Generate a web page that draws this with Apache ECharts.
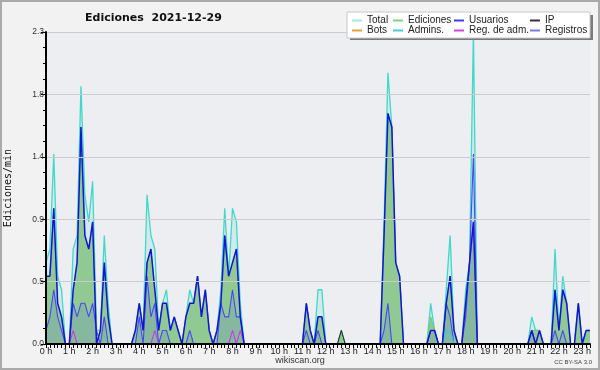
<!DOCTYPE html>
<html><head><meta charset="utf-8">
<script src="https://cdn.jsdelivr.net/npm/echarts@6/dist/echarts.min.js"></script>
<style>html,body{margin:0;padding:0;background:#f2f2f2}#c{width:600px;height:370px}</style>
</head><body><div id="c"></div>
<script>
// 10-minute samples, 00:00 .. 23:20
const categories = [];
for (let m = 0; m <= 1400; m += 10) {
  categories.push(String(Math.floor(m / 60)).padStart(2, '0') + ':' + String(m % 60).padStart(2, '0'));
}
const hourSuffix = ' h';
const yTickValues = [0, 0.46, 0.92, 1.38, 1.84, 2.3];

const total = [
0.6,0.7,1.4,0.5,0.4,0,0,0.7,0.8,1.9,
1.1,0.9,1.2,0.1,0.1,0.8,0.3,0,0,0,
0,0,0,0.1,0.3,0.1,1.1,0.8,0.7,0.1,
0.3,0.4,0.1,0.2,0.1,0,0.2,0.4,0.3,0.5,
0.2,0.4,0.1,0,0.1,0.4,1.0,0.5,1.0,0.9,
0.3,0,0,0,0,0,0,0,0,0,
0,0,0,0,0,0,0,0.3,0.1,0,
0.4,0.4,0,0,0,0,0.1,0,0,0,
0,0,0,0,0,0,0,0.9,2.0,1.6,
0.6,0.5,0,0,0,0,0,0,0,0.3,
0.1,0,0,0.4,0.8,0.1,0,0,0.4,0.6,
2.3,0,0,0,0,0,0,0,0,0,
0,0,0,0,0,0.2,0.1,0.1,0,0,
0,0.7,0.1,0.5,0.3,0,0,0.3,0,0.1,
0.1];

const ediciones = [
0.5,0.5,1.0,0.3,0.2,0,0,0.4,0.6,1.6,
0.8,0.7,0.9,0,0.1,0.6,0.2,0,0,0,
0,0,0,0.1,0.3,0.1,0.6,0.7,0.4,0.1,
0.3,0.3,0.1,0.2,0.1,0,0.2,0.3,0.3,0.5,
0.2,0.4,0.1,0,0.1,0.3,0.8,0.5,0.6,0.7,
0.2,0,0,0,0,0,0,0,0,0,
0,0,0,0,0,0,0,0.3,0.1,0,
0.2,0.2,0,0,0,0,0.1,0,0,0,
0,0,0,0,0,0,0,0.8,1.7,1.6,
0.6,0.5,0,0,0,0,0,0,0,0.2,
0.1,0,0,0.3,0.5,0.1,0,0,0.3,0.6,
0.9,0,0,0,0,0,0,0,0,0,
0,0,0,0,0,0.1,0.1,0.1,0,0,
0,0.4,0.1,0.4,0.3,0,0,0.3,0,0.1,
0.1];

const usuarios = [
0.5,0.5,1.0,0.3,0.2,0,0,0.4,0.6,1.6,
0.8,0.7,0.9,0,0.1,0.6,0.2,0,0,0,
0,0,0,0.1,0.3,0.1,0.6,0.7,0.4,0.1,
0.3,0.3,0.1,0.2,0.1,0,0.2,0.3,0.3,0.5,
0.2,0.4,0.1,0,0.1,0.3,0.8,0.5,0.6,0.7,
0.2,0,0,0,0,0,0,0,0,0,
0,0,0,0,0,0,0,0.3,0.1,0,
0.2,0.2,0,0,0,0,0,0,0,0,
0,0,0,0,0,0,0,0.8,1.7,1.6,
0.6,0.5,0,0,0,0,0,0,0,0.1,
0.1,0,0,0.3,0.5,0.1,0,0,0.3,0.6,
0.9,0,0,0,0,0,0,0,0,0,
0,0,0,0,0,0.1,0,0.1,0,0,
0,0.4,0.1,0.4,0.3,0,0,0.3,0,0.1,
0.1];

const ip = [
0,0,0,0,0,0,0,0,0,0,
0,0,0,0,0,0,0,0,0,0,
0,0,0,0,0,0,0,0,0,0,
0,0,0,0,0,0,0,0,0,0,
0,0,0,0,0,0,0,0,0,0,
0,0,0,0,0,0,0,0,0,0,
0,0,0,0,0,0,0,0,0,0,
0,0,0,0,0,0,0.1,0,0,0,
0,0,0,0,0,0,0,0,0,0,
0,0,0,0,0,0,0,0,0,0,
0,0,0,0,0,0,0,0,0,0,
0,0,0,0,0,0,0,0,0,0,
0,0,0,0,0,0,0,0,0,0,
0,0,0,0,0,0,0,0,0,0,
0];

const bots = [
0,0,0,0,0,0,0,0,0,0,
0,0,0,0,0,0,0,0,0,0,
0,0,0,0,0,0,0,0,0,0,
0,0,0,0,0,0,0,0,0,0,
0,0,0,0,0,0,0,0,0,0,
0,0,0,0,0,0,0,0,0,0,
0,0,0,0,0,0,0,0,0,0,
0,0,0,0,0,0,0,0,0,0,
0,0,0,0,0,0,0,0,0,0,
0,0,0,0,0,0,0,0,0,0,
0,0,0,0,0,0,0,0,0,0,
0,0,0,0,0,0,0,0,0,0,
0,0,0,0,0,0,0,0,0,0,
0,0,0,0,0,0,0,0,0,0,
0];

const admins = [
0,0,0,0,0,0,0,0,0,0,
0,0,0,0,0,0,0,0,0,0,
0,0,0,0,0,0,0,0,0,0,
0,0,0,0,0,0,0,0,0,0,
0,0,0,0,0,0,0,0,0,0,
0,0,0,0,0,0,0,0,0,0,
0,0,0,0,0,0,0,0,0,0,
0,0,0,0,0,0,0,0,0,0,
0,0,0,0,0,0,0,0,0,0,
0,0,0,0,0,0,0,0,0,0,
0,0,0,0.1,0.1,0,0,0,0,0,
0,0,0,0,0,0,0,0,0,0,
0,0,0,0,0,0,0,0,0,0,
0,0,0,0,0,0,0,0,0,0,
0];

const regAdm = [
0,0,0,0,0,0,0,0.1,0,0,
0,0,0,0,0,0,0,0,0,0,
0,0,0,0,0,0,0,0,0.1,0,
0,0,0,0,0,0,0,0,0,0,
0,0,0,0,0,0,0,0,0.1,0,
0.1,0,0,0,0,0,0,0,0,0,
0,0,0,0,0,0,0,0,0,0,
0,0,0,0,0,0,0,0,0,0,
0,0,0,0,0,0,0,0,0,0,
0,0,0,0,0,0,0,0,0,0,
0,0,0,0,0,0,0,0,0,0,
0,0,0,0,0,0,0,0,0,0,
0,0,0,0,0,0,0,0,0,0,
0,0,0,0,0,0,0,0,0,0,
0];

const registros = [
0.1,0.2,0.4,0.2,0.1,0,0,0.3,0.2,0.3,
0.3,0.2,0.3,0.1,0,0.2,0,0,0,0,
0,0,0,0,0.2,0,0.5,0.2,0.3,0,
0.1,0.1,0,0,0,0,0,0.1,0,0,
0,0,0,0,0,0.3,0.2,0.2,0.4,0.2,
0.2,0,0,0,0,0,0,0,0,0,
0,0,0,0,0,0,0,0.1,0,0,
0.1,0,0,0,0,0,0,0,0,0,
0,0,0,0,0,0,0,0.1,0.3,0,
0,0,0,0,0,0,0,0,0,0.1,
0.1,0,0,0.3,0.2,0,0,0,0.2,0.6,
1.4,0,0,0,0,0,0,0,0,0,
0,0,0,0,0,0.1,0,0,0,0,
0,0.1,0,0.1,0,0,0,0,0,0,
0];

const chart = echarts.init(document.getElementById('c'), null, {renderer: 'canvas'});

function line(name, data, legendColor, lineColor, width, z, area) {
  const s = {
    name: name, type: 'line', data: data, z: z,
    showSymbol: false, symbol: 'none', silent: true,
    itemStyle: {color: legendColor},
    lineStyle: {color: lineColor, width: width},
    emphasis: {disabled: true}
  };
  if (area) s.areaStyle = {color: area, opacity: 1, origin: 'start'};
  return s;
}

const legendFont = {fontFamily: 'Liberation Sans', fontSize: 10, color: '#222', lineHeight: 9};
function legendCol(left, items) {
  return {
    orient: 'vertical', left: left, top: 15.5, padding: 0, itemGap: 0,
    itemWidth: 10, itemHeight: 2, icon: 'rect', selectedMode: false, z: 60,
    textStyle: legendFont,
    data: items.map(function (it) { return {name: it[0], itemStyle: {color: it[1]}}; })
  };
}

const option = {
  animation: false,
  backgroundColor: '#f2f2f2',
  title: {
    text: 'Ediciones  2021-12-29', left: 85, top: 13, padding: 0,
    textStyle: {fontFamily: 'DejaVu Sans', fontWeight: 'bold', fontSize: 11, color: '#111'}
  },
  graphic: [
    {type: 'rect', shape: {x: 1, y: 1, width: 598, height: 368}, style: {fill: 'none', stroke: '#aaaaaa', lineWidth: 2}, silent: true, z: 100},
    {type: 'rect', shape: {x: 350, y: 15, width: 243, height: 25}, style: {fill: '#7a7a7a'}, silent: true, z: 50},
    {type: 'rect', shape: {x: 347, y: 12, width: 243, height: 26}, style: {fill: '#ffffff', stroke: '#c8c8c8', lineWidth: 1}, silent: true, z: 51},
    {type: 'text', x: 300, y: 361, style: {text: 'wikiscan.org', fill: '#333', font: '9px "Liberation Sans"', textAlign: 'center', textVerticalAlign: 'middle'}, silent: true},
    {type: 'text', x: 592, y: 362, style: {text: 'CC BY-SA 3.0', fill: '#444', font: '6px "Liberation Sans"', textAlign: 'right', textVerticalAlign: 'middle'}, silent: true}
  ],
  legend: [
    legendCol(352, [['Total', '#a8e6e6'], ['Bots', '#f0a030']]),
    legendCol(393, [['Ediciones', '#80d080'], ['Admins.', '#40d0e0']]),
    legendCol(454, [['Usuarios', '#3c3cff'], ['Reg. de adm.', '#d040f0']]),
    legendCol(530, [['IP', '#333333'], ['Registros', '#7878ff']])
  ],
  grid: {left: 46, right: 10, top: 32, bottom: 26, containLabel: false, outerBoundsMode: 'none',
         show: true, backgroundColor: '#eceef1', borderWidth: 0},
  xAxis: {
    type: 'category', data: categories, boundaryGap: false, z: 10,
    axisLine: {lineStyle: {color: '#000', width: 2}},
    axisTick: {show: true, interval: 0, length: 4, lineStyle: {color: '#000', width: 1}},
    axisLabel: {
      interval: function (idx) { return idx % 6 === 0; },
      formatter: function (val, idx) { return (idx / 6) + hourSuffix; },
      margin: 3, fontFamily: 'Liberation Sans', fontSize: 9, color: '#222'
    },
    splitLine: {show: false}
  },
  yAxis: {
    type: 'value', min: yTickValues[0], max: yTickValues[yTickValues.length - 1], interval: 0.46, z: 10,
    name: 'Ediciones/min', nameLocation: 'middle', nameRotate: 90, nameGap: 33,
    nameTextStyle: {fontFamily: 'DejaVu Sans Mono', fontSize: 10, color: '#111'},
    axisLine: {show: true, lineStyle: {color: '#000', width: 2}},
    axisTick: {show: true, length: 5, lineStyle: {color: '#000'}},
    minorTick: {show: true, splitNumber: 4, length: 3, lineStyle: {color: '#000'}},
    axisLabel: {formatter: function (v) { return v.toFixed(1); }, margin: 2, fontFamily: 'Liberation Sans', fontSize: 8.5, color: '#333'},
    splitLine: {show: true, lineStyle: {color: '#cccccc', width: 1}}
  },
  series: [
    line('Total', total, '#a8e6e6', '#40d8c8', 1.3, 1, 'rgba(64,216,200,0.15)'),
    line('Ediciones', ediciones, '#80d080', '#7cc47c', 1, 2, '#91c992'),
    line('Registros', registros, '#7878ff', '#4848f4', 1.1, 3, 'rgba(60,60,255,0.12)'),
    line('Bots', bots, '#f0a030', '#f0a030', 1, 3),
    line('Admins.', admins, '#40d0e0', '#30c8e8', 1.1, 4),
    line('IP', ip, '#333333', '#222222', 1, 4),
    line('Reg. de adm.', regAdm, '#d040f0', '#c040e0', 1.1, 4),
    line('Usuarios', usuarios, '#3c3cff', '#1414d4', 1.5, 5)
  ]
};
chart.setOption(option);
</script>
</body></html>
